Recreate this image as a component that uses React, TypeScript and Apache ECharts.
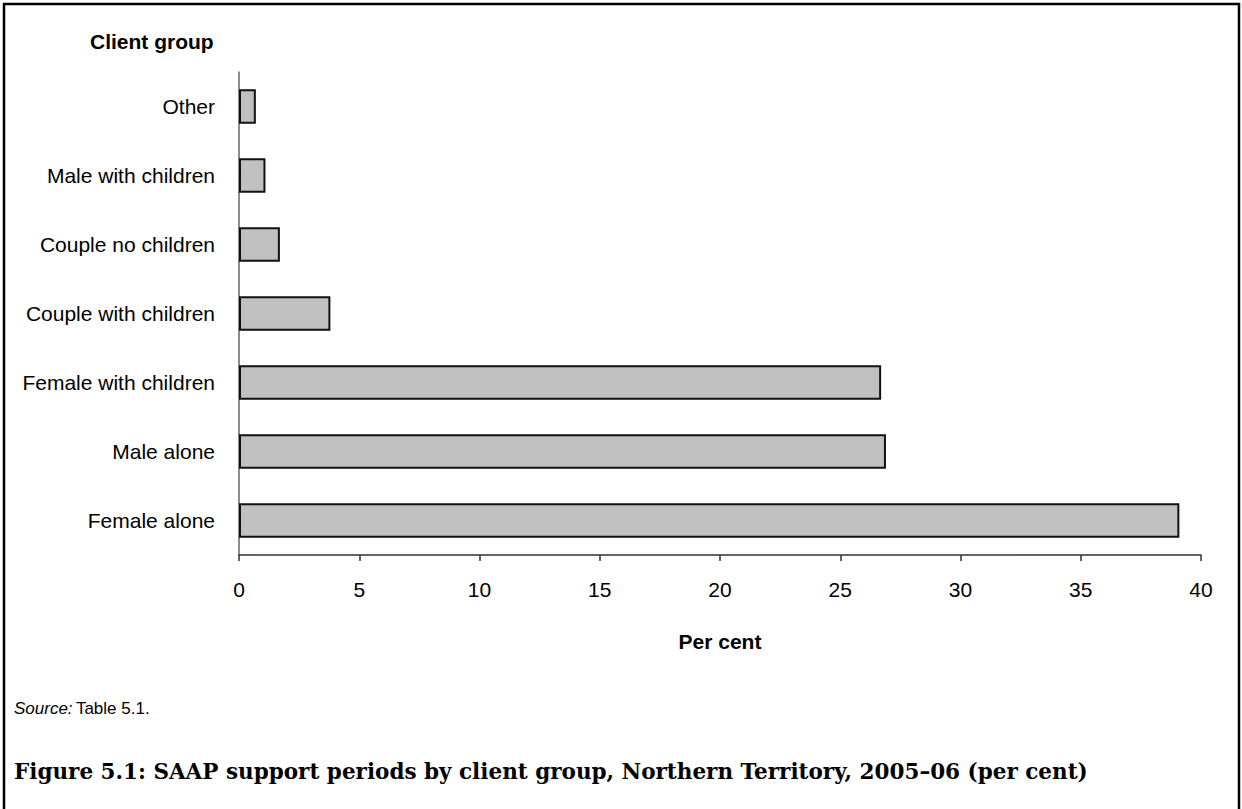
import React, { useEffect, useRef } from "react";
import * as echarts from "echarts";

const categories = [
  "Other",
  "Male with children",
  "Couple no children",
  "Couple with children",
  "Female with children",
  "Male alone",
  "Female alone",
];
const values = [0.7, 1.1, 1.7, 3.8, 26.7, 26.9, 39.1];
const xTicks = { min: 0, max: 40, interval: 5 };
const titleText =
  "Figure 5.1: SAAP support periods by client group, Northern Territory, 2005\u201306 (per cent)";

export default function App() {
  const ref = useRef<HTMLDivElement>(null);
  useEffect(() => {
    const chart = echarts.init(ref.current!, null, { renderer: "svg" });
    const sans = "Liberation Sans, Arial, sans-serif";
    chart.setOption({
      animation: false,
      backgroundColor: "#ffffff",
      textStyle: { fontFamily: sans },
      grid: { left: 239, right: 41, top: 72, bottom: 254, containLabel: false },
      xAxis: {
        type: "value",
        min: xTicks.min,
        max: xTicks.max,
        interval: xTicks.interval,
        name: "Per cent",
        nameLocation: "middle",
        nameGap: 76,
        nameTextStyle: { fontFamily: sans, fontSize: 21, fontWeight: "bold", color: "#000" },
        axisLine: { show: true, lineStyle: { color: "#333", width: 1.5 } },
        axisTick: { show: true, length: 6, lineStyle: { color: "#333", width: 1.5 } },
        axisLabel: { margin: 24, fontFamily: sans, fontSize: 21, color: "#000" },
        splitLine: { show: false },
      },
      yAxis: {
        type: "category",
        data: categories,
        inverse: true,
        axisLine: { show: true, lineStyle: { color: "#666", width: 1.5 } },
        axisTick: { show: false },
        axisLabel: { margin: 24, fontFamily: sans, fontSize: 21, color: "#000" },
        splitLine: { show: false },
      },
      series: [
        {
          type: "bar",
          data: values,
          barWidth: "50%",
          itemStyle: { color: "#C0C0C0", borderColor: "#111", borderWidth: 2 },
          label: { show: false },
        },
      ],
      graphic: [
        {
          type: "rect",
          shape: { x: 4, y: 4, width: 1235, height: 900 },
          style: { fill: "none", stroke: "#000", lineWidth: 2.5 },
          silent: true,
        },
        {
          type: "text",
          x: 90,
          y: 41,
          style: {
            text: "Client group",
            font: "bold 21px " + sans,
            fill: "#000",
            verticalAlign: "middle",
            align: "left",
          },
        },
        {
          type: "text",
          x: 14,
          y: 708,
          style: {
            text: "{i|Source:} {n|Table 5.1.}",
            verticalAlign: "middle",
            align: "left",
            rich: {
              i: { fontFamily: sans, fontSize: 17, fontStyle: "italic", fill: "#000" },
              n: { fontFamily: sans, fontSize: 17, fill: "#000" },
            },
          },
        },
        {
          type: "text",
          x: 14,
          y: 771,
          style: {
            text: titleText,
            font: "bold 21.5px 'DejaVu Serif', serif",
            fill: "#000",
            verticalAlign: "middle",
            align: "left",
          },
        },
      ],
    });
    return () => chart.dispose();
  }, []);
  return (
    <div
      ref={ref}
      style={{ position: "fixed", left: 0, top: 0, width: 1242, height: 809 }}
    />
  );
}
